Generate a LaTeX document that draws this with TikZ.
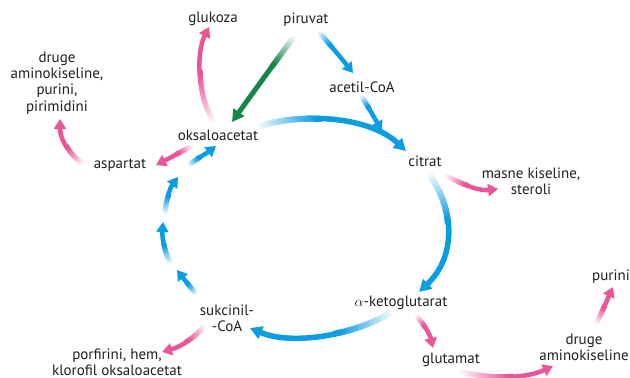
\documentclass[tikz,border=0pt]{standalone}
\usepackage{fontspec}
\setmainfont{PT Sans}
\usetikzlibrary{arrows.meta}
\definecolor{cblue}{RGB}{10,157,226}
\definecolor{cpink}{RGB}{236,84,152}
\definecolor{cgreen}{RGB}{22,135,72}
\definecolor{ctext}{RGB}{35,31,32}

% #1 colour, #2 width, #3 faded fraction, #4 start, #5 c1, #6 c2, #7 end, #8 tip
\newcommand\farrow[8]{%
  \draw[draw=#1, line width=#2pt, -{Triangle[#8]}] #4 .. controls #5 and #6 .. #7;
  \foreach \k in {0,...,14}{%
    \pgfmathsetmacro\pp{#3*\k/14}%
    \path #4 .. controls #5 and #6 .. #7 coordinate[pos=\pp] (fq\k);}
  \pgfmathsetmacro\wo{#2+0.5}%
  \foreach \k in {0,...,13}{%
    \pgfmathtruncatemacro\kn{\k+1}%
    \pgfmathtruncatemacro\pc{6+94*\k/13}%
    \draw[line width=\wo pt, line cap=round, draw=#1!\pc!white] (fq\k) -- (fq\kn);}
}

\begin{document}
\begin{tikzpicture}[x=1pt,y=-1pt,
  lbl/.style={text=ctext, font=\fontsize{15}{16.2}\selectfont, align=center, inner sep=0pt}]
\useasboundingbox (0,0) rectangle (630,378);
\fill[white] (0,0) rectangle (630,378);

% labels
\node[lbl] (glu) at (213,19) {glukoza};
\node[lbl] (pir) at (306,20) {piruvat};
\node[lbl] (dru1) at (57,83) {druge\\aminokiseline,\\purini,\\pirimidini};
\node[lbl] (oks) at (218,135) {oksaloacetat};
\node[lbl] (asp) at (120,165) {aspartat};
\node[lbl] (ace) at (362,87) {acetil-CoA};
\node[lbl] (cit) at (425,161) {citrat};
\node[lbl] (mas) at (531,181) {masne kiseline,\\steroli};
\node[lbl] (akg) at (401,303) {$\alpha$-ketoglutarat};
\node[lbl] (suk) at (227,318) {sukcinil-\\-CoA};
\node[lbl] (por) at (117,362) {porfirini, hem,\\klorofil oksaloacetat};
\node[lbl] (glt) at (451,360) {glutamat};
\node[lbl] (dru2) at (584,347) {druge\\aminokiseline};
\node[lbl] (pur) at (611,277) {purini};

% arrow end points
\coordinate (a1s) at (213,120); \coordinate (a1e) at (209,27);
\coordinate (a2s) at (293,38);  \coordinate (a2e) at (232,122);
\coordinate (a3s) at (320,33);  \coordinate (a3e) at (353,73);
\coordinate (a4s) at (362,97);  \coordinate (a4e) at (382,131);
\coordinate (a5s) at (260,126); \coordinate (a5e) at (406,151);
\coordinate (a6s) at (430,176); \coordinate (a6e) at (419,292);
\coordinate (a7s) at (390,313); \coordinate (a7e) at (250,328);
\coordinate (a8s) at (195,293); \coordinate (a8e) at (177,270);
\coordinate (a9s) at (170,262); \coordinate (a9e) at (163,222);
\coordinate (a10s) at (165,212); \coordinate (a10e) at (178,177);
\coordinate (a11s) at (190,164); \coordinate (a11e) at (216,146);
\coordinate (a12s) at (190,147); \coordinate (a12e) at (156,165);
\coordinate (a13s) at (82,163);  \coordinate (a13e) at (60,119);
\coordinate (a14s) at (447,176); \coordinate (a14e) at (498,189);
\coordinate (a15s) at (203,327); \coordinate (a15e) at (162,352);
\coordinate (a16s) at (417,317); \coordinate (a16e) at (433,348);
\coordinate (a17s) at (462,372); \coordinate (a17e) at (553,366);
\coordinate (a18s) at (597,322); \coordinate (a18e) at (613,287);

\def\tipL{length=12pt,width=13pt}
\def\tipS{length=10pt,width=12pt}

\farrow{cpink}{4.5}{0.55}{(a1s)}{(199,100)}{(195,55)}{(a1e)}{\tipS}
\farrow{cgreen}{5}{0.35}{(a2s)}{(273,65)}{(252,94)}{(a2e)}{\tipL}
\farrow{cblue}{4.5}{0.35}{(a3s)}{(331,46)}{(342,59)}{(a3e)}{\tipS}
\farrow{cblue}{4.5}{0.35}{(a4s)}{(369,108)}{(375,119)}{(a4e)}{\tipS}
\farrow{cblue}{5.5}{0.4}{(a5s)}{(305,112)}{(370,117)}{(a5e)}{\tipL}
\farrow{cblue}{5.5}{0.4}{(a6s)}{(456,212)}{(455,258)}{(a6e)}{\tipL}
\farrow{cblue}{5.5}{0.4}{(a7s)}{(350,337)}{(290,345)}{(a7e)}{\tipL}
\farrow{cblue}{4.5}{0.45}{(a8s)}{(189,285)}{(183,278)}{(a8e)}{\tipS}
\farrow{cblue}{4.5}{0.5}{(a9s)}{(164,250)}{(162,238)}{(a9e)}{\tipS}
\farrow{cblue}{4.5}{0.5}{(a10s)}{(166,200)}{(170,188)}{(a10e)}{\tipS}
\farrow{cblue}{4.5}{0.4}{(a11s)}{(198,158)}{(207,153)}{(a11e)}{\tipS}
\farrow{cpink}{4.5}{0.4}{(a12s)}{(179,153)}{(168,159)}{(a12e)}{\tipS}
\farrow{cpink}{4.5}{0.5}{(a13s)}{(70,155)}{(60,140)}{(a13e)}{\tipS}
\farrow{cpink}{4.5}{0.4}{(a14s)}{(465,186)}{(480,191)}{(a14e)}{\tipS}
\farrow{cpink}{4.5}{0.5}{(a15s)}{(195,338)}{(180,347)}{(a15e)}{\tipS}
\farrow{cpink}{4.5}{0.4}{(a16s)}{(425,325)}{(430,335)}{(a16e)}{\tipS}
\farrow{cpink}{4.5}{0.55}{(a17s)}{(490,379)}{(525,379)}{(a17e)}{\tipS}
\farrow{cpink}{4.5}{0.45}{(a18s)}{(603,310)}{(608,298)}{(a18e)}{\tipS}
\end{tikzpicture}
\end{document}
